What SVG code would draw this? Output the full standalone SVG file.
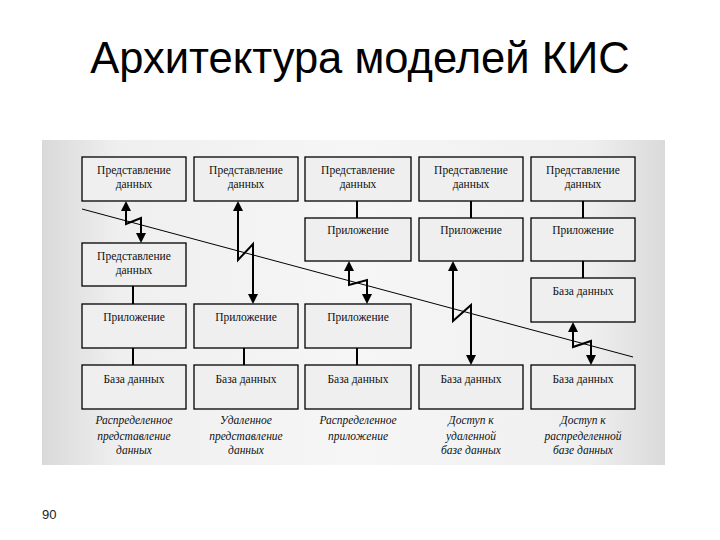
<svg xmlns="http://www.w3.org/2000/svg" width="720" height="540" viewBox="0 0 720 540">
<defs>
<linearGradient id="bg" x1="0" y1="0" x2="1" y2="0">
<stop offset="0" stop-color="#d9d9d9"/>
<stop offset="0.12" stop-color="#efefef"/>
<stop offset="0.5" stop-color="#f6f6f6"/>
<stop offset="0.88" stop-color="#efefef"/>
<stop offset="1" stop-color="#dadada"/>
</linearGradient>
<marker id="ah" viewBox="0 0 10 10" refX="8" refY="5" markerWidth="10" markerHeight="10" markerUnits="userSpaceOnUse" orient="auto-start-reverse">
<path d="M0,0 L10,5 L0,10 z" fill="#000"/>
</marker>
<style>
.title{font-family:"Liberation Sans",Arial,sans-serif;font-size:43.5px;fill:#000}
.pg{font-family:"Liberation Sans",Arial,sans-serif;font-size:13px;fill:#222}
.box{fill:#efefef;stroke:#000;stroke-width:1.3}
.t{font-family:"Liberation Serif","Times New Roman",serif;font-size:11.5px;fill:#111;text-anchor:middle}
.c{font-family:"Liberation Serif","Times New Roman",serif;font-size:11.5px;font-style:italic;fill:#111;text-anchor:middle}
.link{stroke:#000;stroke-width:2;fill:none}
.arr{stroke:#000;stroke-width:2;fill:none;marker-start:url(#ah);marker-end:url(#ah)}
.div{stroke:#000;stroke-width:1;fill:none}
</style>
</defs>
<rect width="720" height="540" fill="#fff"/>
<text class="title" x="360" y="73" text-anchor="middle">Архитектура моделей КИС</text>
<text class="pg" x="42" y="519">90</text>
<rect x="42" y="140" width="623" height="325" fill="url(#bg)"/>

<g id="connectors">
<line class="div" x1="82" y1="209" x2="633" y2="357"/>
<line class="link" x1="133" y1="286" x2="133" y2="304"/>
<line class="link" x1="133" y1="348" x2="133" y2="365"/>
<line class="link" x1="244" y1="348" x2="244" y2="365"/>
<line class="link" x1="357" y1="201" x2="357" y2="218"/>
<line class="link" x1="357" y1="348" x2="357" y2="365"/>
<line class="link" x1="471" y1="201" x2="471" y2="218"/>
<line class="link" x1="583" y1="201" x2="583" y2="218"/>
<line class="link" x1="583" y1="261" x2="583" y2="278"/>
<path class="arr" d="M126,203 L126,224 L141,218 L141,241"/>
<path class="arr" d="M238,203 L238,260 L253,244 L253,302"/>
<path class="arr" d="M349,263 L349,285 L367,280 L367,302"/>
<path class="arr" d="M453,263 L453,321 L471,305 L471,363"/>
<path class="arr" d="M573,324 L573,347 L591,341 L591,363"/>
</g>

<g id="c1-pres">
<rect class="box" x="82" y="157" width="104" height="44"/>
<text class="t" x="134" y="174">Представление</text>
<text class="t" x="134" y="188">данных</text>
</g>
<g id="c1-pres2">
<rect class="box" x="82" y="243" width="104" height="43"/>
<text class="t" x="134" y="260">Представление</text>
<text class="t" x="134" y="274">данных</text>
</g>
<g id="c1-app">
<rect class="box" x="82" y="304" width="104" height="44"/>
<text class="t" x="134" y="321">Приложение</text>
</g>
<g id="c1-db">
<rect class="box" x="82" y="365" width="104" height="44"/>
<text class="t" x="134" y="383">База данных</text>
</g>
<g id="c1-cap">
<text class="c" x="134" y="424">Распределенное</text>
<text class="c" x="134" y="440">представление</text>
<text class="c" x="134" y="454">данных</text>
</g>

<g id="c2-pres">
<rect class="box" x="194" y="157" width="104" height="44"/>
<text class="t" x="246" y="174">Представление</text>
<text class="t" x="246" y="188">данных</text>
</g>
<g id="c2-app">
<rect class="box" x="194" y="304" width="104" height="44"/>
<text class="t" x="246" y="321">Приложение</text>
</g>
<g id="c2-db">
<rect class="box" x="194" y="365" width="104" height="44"/>
<text class="t" x="246" y="383">База данных</text>
</g>
<g id="c2-cap">
<text class="c" x="246" y="424">Удаленное</text>
<text class="c" x="246" y="440">представление</text>
<text class="c" x="246" y="454">данных</text>
</g>

<g id="c3-pres">
<rect class="box" x="305" y="157" width="106" height="44"/>
<text class="t" x="358" y="174">Представление</text>
<text class="t" x="358" y="188">данных</text>
</g>
<g id="c3-app1">
<rect class="box" x="305" y="218" width="106" height="43"/>
<text class="t" x="358" y="234">Приложение</text>
</g>
<g id="c3-app2">
<rect class="box" x="305" y="304" width="106" height="44"/>
<text class="t" x="358" y="321">Приложение</text>
</g>
<g id="c3-db">
<rect class="box" x="305" y="365" width="106" height="44"/>
<text class="t" x="358" y="383">База данных</text>
</g>
<g id="c3-cap">
<text class="c" x="358" y="424">Распределенное</text>
<text class="c" x="358" y="440">приложение</text>
</g>

<g id="c4-pres">
<rect class="box" x="419" y="157" width="104" height="44"/>
<text class="t" x="471" y="174">Представление</text>
<text class="t" x="471" y="188">данных</text>
</g>
<g id="c4-app">
<rect class="box" x="419" y="218" width="104" height="43"/>
<text class="t" x="471" y="234">Приложение</text>
</g>
<g id="c4-db">
<rect class="box" x="419" y="365" width="104" height="44"/>
<text class="t" x="471" y="383">База данных</text>
</g>
<g id="c4-cap">
<text class="c" x="471" y="424">Доступ к</text>
<text class="c" x="471" y="440">удаленной</text>
<text class="c" x="471" y="454">базе данных</text>
</g>

<g id="c5-pres">
<rect class="box" x="531" y="157" width="104" height="44"/>
<text class="t" x="583" y="174">Представление</text>
<text class="t" x="583" y="188">данных</text>
</g>
<g id="c5-app">
<rect class="box" x="531" y="218" width="104" height="43"/>
<text class="t" x="583" y="234">Приложение</text>
</g>
<g id="c5-db1">
<rect class="box" x="531" y="278" width="104" height="44"/>
<text class="t" x="583" y="295">База данных</text>
</g>
<g id="c5-db2">
<rect class="box" x="531" y="365" width="104" height="44"/>
<text class="t" x="583" y="383">База данных</text>
</g>
<g id="c5-cap">
<text class="c" x="583" y="424">Доступ к</text>
<text class="c" x="583" y="440">распределенной</text>
<text class="c" x="583" y="454">базе данных</text>
</g>
</svg>
